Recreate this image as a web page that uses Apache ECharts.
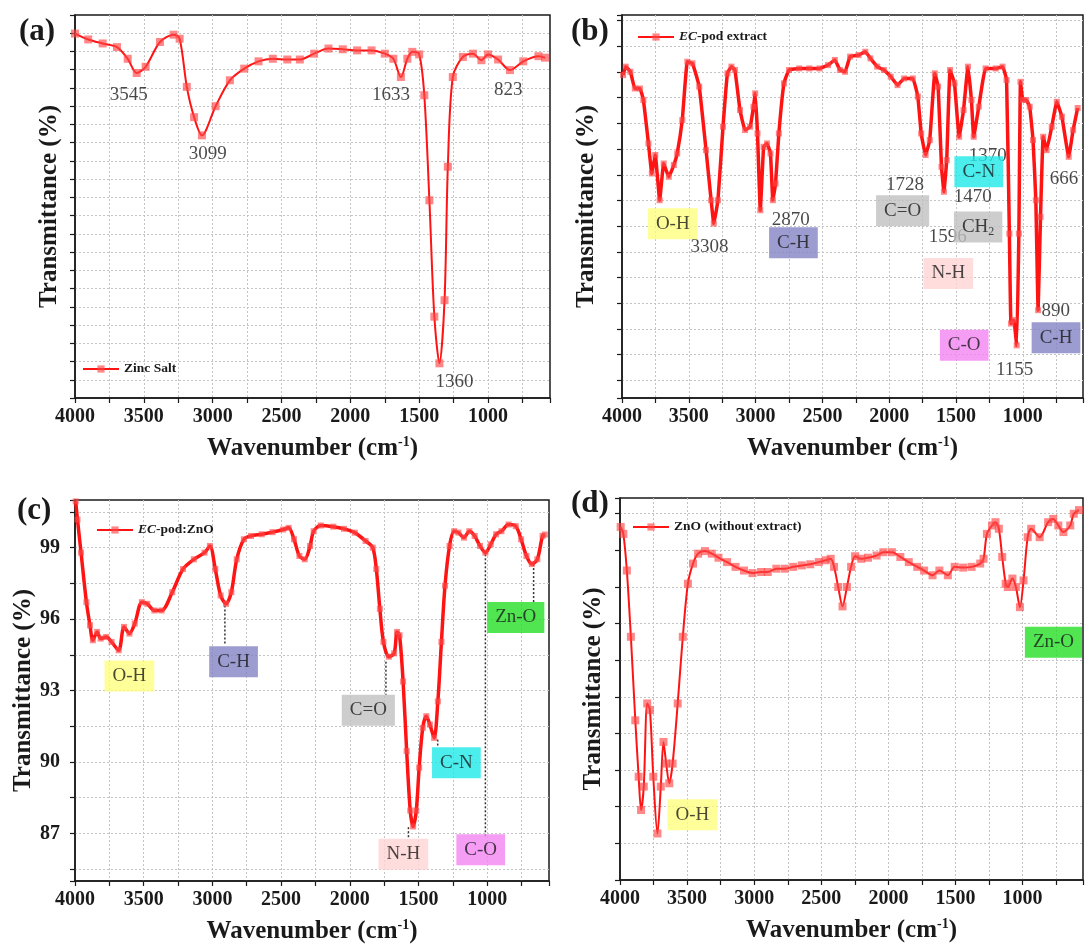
<!DOCTYPE html>
<html>
<head>
<meta charset="utf-8">
<script src="https://cdn.jsdelivr.net/npm/echarts@6/dist/echarts.min.js"></script>
<style>
  html, body { margin: 0; padding: 0; background: #fff; }
  #chart { width: 1086px; height: 947px; }
</style>
</head>
<body>
<div id="chart"></div>
<script>
// (a) Zinc Salt
const aWave = [4000,3904,3799,3695,3617,3552,3487,3383,3284,3240,3188,3135,3078,2979,2875,2771,2667,2563,2458,2367,2263,2159,2055,1951,1846,1750,1688,1633,1586,1550,1500,1463,1426,1390,1353,1316,1292,1256,1183,1110,1048,1000,927,841,744,634,586];
const aTrans = [9.99,9.83,9.72,9.62,9.30,8.91,9.08,9.76,9.96,9.85,8.53,7.70,7.20,8.00,8.71,9.03,9.23,9.30,9.28,9.28,9.44,9.58,9.56,9.53,9.53,9.44,9.30,8.80,9.30,9.49,9.42,8.30,5.42,2.23,0.95,2.68,6.34,8.80,9.35,9.44,9.26,9.42,9.28,8.99,9.23,9.37,9.33];
const aPeaks = [["3545",3609,8.30],["3099",3036,6.70],["1633",1705,8.30],["1360",1243,0.44],["823",854,8.44]];

// (b) EC-pod extract
const bWave = [3992,3972,3937,3904,3866,3840,3802,3777,3751,3718,3688,3650,3612,3587,3549,3511,3473,3422,3371,3333,3313,3282,3244,3211,3181,3155,3117,3079,3041,3016,3003,2986,2965,2940,2915,2889,2871,2851,2826,2788,2750,2674,2598,2522,2458,2407,2369,2331,2293,2230,2179,2141,2090,2040,1989,1938,1888,1824,1786,1761,1728,1697,1659,1634,1609,1591,1570,1545,1512,1477,1444,1411,1385,1368,1330,1279,1203,1152,1122,1101,1089,1068,1046,1030,1018,1000,975,949,924,903,886,868,848,822,784,746,708,657,624,590];
const bTrans = [11.88,12.21,12.01,11.36,11.36,10.91,9.22,8.05,8.77,7.01,8.44,7.92,8.38,8.83,10.13,12.40,12.34,11.43,8.96,7.01,6.10,7.01,9.87,11.95,12.21,12.08,10.52,9.74,9.87,10.65,11.17,9.61,6.62,9.09,9.22,8.83,7.01,7.66,9.61,11.56,12.08,12.14,12.14,12.14,12.27,12.47,12.08,12.01,12.60,12.66,12.79,12.53,12.21,12.08,11.82,11.49,11.75,11.75,11.04,9.61,8.77,9.35,11.95,11.43,8.31,7.34,8.57,12.08,11.56,9.48,10.52,12.21,10.91,9.48,10.65,12.14,12.14,12.21,11.69,5.71,2.21,2.34,1.36,5.71,11.62,10.91,10.91,10.65,9.35,7.01,2.73,6.36,9.48,8.96,9.87,10.84,10.26,8.70,9.74,10.6];
const bPeaks = [["3308",3346,5.19],["2870",2737,6.23],["1728",1882,7.60],["1596",1563,5.56],["1470",1375,7.14],["1370",1263,8.74],["1155",1062,0.39],["890",754,2.70],["666",692,7.82]];
const bBoxes = [["O-H",3620,6.09],["C-H",2717,5.35],["C=O",1900,6.60],["CH2",1335,5.97],["C-N",1330,8.12],["N-H",1558,4.16],["C-O",1439,1.36],["C-H",752,1.66]];

// (c) EC-pod:ZnO
const cWave = [3995,3982,3956,3917,3891,3870,3839,3813,3773,3734,3682,3643,3604,3565,3513,3474,3422,3370,3292,3214,3135,3057,3018,2979,2940,2901,2862,2823,2771,2719,2641,2563,2485,2445,2406,2367,2328,2289,2263,2211,2120,2042,1964,1885,1833,1807,1781,1755,1716,1677,1656,1638,1612,1586,1560,1539,1516,1495,1469,1443,1417,1386,1359,1333,1307,1274,1240,1209,1169,1130,1091,1052,1013,974,935,896,844,792,753,714,675,635,597,580];
const cTrans = [100.94,100.18,98.79,96.71,95.74,95.11,95.46,95.18,95.25,95.04,94.69,95.67,95.39,95.81,96.71,96.64,96.36,96.36,97.13,98.10,98.51,98.79,99.07,98.10,96.99,96.64,97.13,98.51,99.35,99.49,99.56,99.65,99.76,99.83,99.35,98.65,98.51,99.07,99.69,99.93,99.88,99.79,99.63,99.28,99.00,98.10,96.43,95.04,94.42,94.56,95.46,95.32,93.38,90.46,87.96,87.29,87.96,89.76,91.43,91.92,91.57,91.01,92.54,95.04,97.40,99.07,99.69,99.63,99.42,99.69,99.49,99.07,98.79,99.14,99.56,99.69,99.97,99.90,99.35,98.65,98.31,98.51,99.49,99.55];
const cBoxes = [["O-H",3604,93.61],["C-H",2846,94.21],["C=O",1865,92.17],["N-H",1610,86.12],["C-N",1224,89.97],["C-O",1047,86.31],["Zn-O",792,96.07]];
const cLeaders = [[2909,96.57,94.97],[1737,94.21,92.82],[1573,87.26,86.78],[1360,90.94,90.63],[1013,98.72,86.88],[662,98.31,96.71]];

// (d) ZnO (without extract)
const dWave = [3995,3975,3949,3919,3886,3861,3843,3823,3797,3777,3752,3721,3696,3676,3656,3633,3608,3570,3532,3494,3456,3418,3367,3316,3266,3202,3139,3076,3013,2949,2899,2835,2772,2709,2645,2582,2519,2468,2430,2405,2374,2342,2309,2278,2248,2202,2152,2088,2038,1974,1911,1848,1785,1734,1671,1620,1557,1506,1443,1380,1316,1291,1266,1228,1202,1177,1152,1126,1110,1076,1050,1020,993,962,936,873,810,772,734,696,645,619,580];
const dTrans = [9.64,9.45,8.45,6.64,4.36,2.82,1.91,2.55,4.82,4.64,2.82,1.27,2.55,3.77,3.18,2.64,3.18,4.82,6.64,8.09,8.64,8.91,8.98,8.91,8.80,8.68,8.55,8.45,8.38,8.41,8.41,8.50,8.50,8.55,8.59,8.62,8.68,8.73,8.77,8.55,8.00,7.47,8.00,8.55,8.84,8.77,8.80,8.86,8.95,8.95,8.82,8.68,8.55,8.45,8.32,8.45,8.32,8.55,8.53,8.55,8.64,8.77,9.45,9.68,9.77,9.59,8.82,8.09,8.00,8.23,8.00,7.45,8.18,9.36,9.59,9.36,9.77,9.86,9.68,9.50,9.68,10.0,10.1];
const dBoxes = [["O-H",3461,1.78],["Zn-O",770,6.49]];

const seriesNames = ["Zinc Salt", "EC-pod extract", "EC-pod:ZnO", "ZnO (without extract)"];
const panelTags = ["(a)", "(b)", "(c)", "(d)"];

const serif = '"Liberation Serif", "Times New Roman", serif';
const ink = "#1a1a1a";
const red = "#ff1414";
const boxColors = {
  "O-H": "#ffff80", "C-H": "#8383c6", "C=O": "#c0c0c0", "CH2": "#c0c0c0",
  "C-N": "#1ee8e8", "N-H": "#ffd4d4", "C-O": "#f285f2", "Zn-O": "#26e026",
};

const zip = (w, t) => w.map((x, i) => [x, t[i]]);

const grids = [
  { left: 75, top: 15, width: 475, height: 383 },
  { left: 622, top: 15, width: 476, height: 383 },
  { left: 75, top: 500, width: 474, height: 383 },
  { left: 620, top: 498, width: 476, height: 382 },
].map((g) => ({ ...g, show: true, borderColor: ink, borderWidth: 1.5 }));

const gridLine = { show: true, showMinLine: false, showMaxLine: false, lineStyle: { color: "#c4c4c4", type: [2, 2], width: 1 } };
const axisLine = { show: true, onZero: false, lineStyle: { color: ink, width: 1.5 } };
const axisTick = { show: true, length: 5, lineStyle: { color: ink, width: 1.2 } };

const xAxes = grids.map((g, i) => ({
  gridIndex: i,
  type: "value",
  inverse: true,
  min: 550,
  max: 4000,
  minInterval: 250,
  maxInterval: 250,
  splitNumber: 14,
  name: "Wavenumber (cm{sup|-1})",
  nameLocation: "middle",
  nameGap: 37,
  nameTextStyle: {
    fontFamily: serif, fontWeight: "bold", fontSize: 25, color: ink, lineHeight: 28,
    rich: { sup: { fontFamily: serif, fontWeight: "bold", fontSize: 14, lineHeight: 13, verticalAlign: "top", color: ink } },
  },
  axisLine, axisTick,
  axisLabel: {
    fontFamily: serif, fontWeight: "bold", fontSize: 20, color: ink, margin: 9,
    formatter: (v) => (v % 500 === 0 ? String(v) : ""),
  },
  splitLine: gridLine,
}));

const yName = {
  name: "Transmittance (%)",
  nameLocation: "middle",
  nameTextStyle: { fontFamily: serif, fontWeight: "bold", fontSize: 25, color: ink },
  axisLine, axisTick, splitLine: gridLine,
};
const yAxes = [
  { ...yName, gridIndex: 0, type: "value", min: 0, max: 10.5, interval: 0.5, nameGap: 13, axisLabel: { show: false } },
  { ...yName, gridIndex: 1, type: "value", min: -0.69, max: 14.22, minInterval: 1, maxInterval: 1, splitNumber: 15, nameGap: 23, axisLabel: { show: false } },
  {
    ...yName, gridIndex: 2, type: "value", min: 85, max: 101, minInterval: 1.5, maxInterval: 1.5, splitNumber: 11, nameGap: 39,
    axisLabel: {
      fontFamily: serif, fontWeight: "bold", fontSize: 20, color: ink, margin: 15,
      formatter: (v) => (Math.abs(v % 3) < 1e-6 ? String(v) : ""),
    },
  },
  { ...yName, gridIndex: 3, type: "value", min: 0, max: 10.43, interval: 1, nameGap: 14, axisLabel: { show: false } },
];

const spectra = [zip(aWave, aTrans), zip(bWave, bTrans), zip(cWave, cTrans), zip(dWave, dTrans)];
const lineWidths = [2, 3.5, 3.5, 2];
const smoothness = [0.3, 0.1, 0.3, 0.3];

const series = spectra.map((data, i) => ({
  name: seriesNames[i],
  type: "line",
  xAxisIndex: i,
  yAxisIndex: i,
  data,
  smooth: smoothness[i],
  symbol: "rect",
  symbolSize: i === 1 || i === 2 ? 6 : 8,
  showSymbol: true,
  lineStyle: { color: red, width: lineWidths[i] },
  itemStyle: { color: "rgba(255,70,70,0.65)", borderWidth: 0 },
  z: 3,
  silent: true,
}));

const textSeries = (list, idx, boxed) => ({
  type: "scatter",
  xAxisIndex: idx,
  yAxisIndex: idx,
  symbolSize: 1,
  itemStyle: { color: "rgba(0,0,0,0)" },
  silent: true,
  z: 6,
  data: list.map(([t, x, y]) => ({
    name: t,
    value: [x, y],
    label: boxed ? { backgroundColor: boxColors[t] } : {},
  })),
  label: {
    show: true,
    position: "inside",
    fontFamily: serif,
    fontSize: 19,
    lineHeight: 21,
    color: ink,
    padding: boxed ? [5, 8] : 0,
    formatter: (p) => (p.name === "CH2" ? "CH{sub|2}" : p.name),
    rich: { sub: { fontFamily: serif, fontSize: 12, lineHeight: 21, verticalAlign: "bottom", padding: [9, 0, 0, 0], color: ink } },
  },
});

series.push(textSeries(aPeaks, 0, false));
series.push(textSeries(bPeaks, 1, false));
series.push(textSeries(bBoxes, 1, true));
series.push(textSeries(cBoxes, 2, true));
series.push(textSeries(dBoxes, 3, true));

cLeaders.forEach(([x, y1, y2]) => {
  series.push({
    type: "line",
    xAxisIndex: 2,
    yAxisIndex: 2,
    data: [[x, y1], [x, y2]],
    symbol: "none",
    silent: true,
    lineStyle: { color: "#333", width: 1.5, type: [2, 2] },
    z: 2,
  });
});

const legendPos = [
  { left: 82, top: 362 },
  { left: 637, top: 30 },
  { left: 96, top: 523 },
  { left: 632, top: 520 },
];
const legends = legendPos.map((p, i) => ({
  ...p,
  data: [seriesNames[i]],
  orient: "horizontal",
  padding: 0,
  itemWidth: 36,
  itemHeight: 9,
  itemGap: 4,
  selectedMode: false,
  textStyle: {
    fontFamily: serif, fontWeight: "bold", fontSize: 13.5, color: ink,
    rich: { i: { fontFamily: serif, fontWeight: "bold", fontStyle: "italic", fontSize: 13.5, color: ink } },
  },
  formatter: (n) => (n.startsWith("EC") ? "{i|EC}" + n.slice(2) : n),
}));

const tagPos = [
  { left: 19, top: 16 },
  { left: 571, top: 16 },
  { left: 17, top: 495 },
  { left: 571, top: 488 },
];
const titles = tagPos.map((p, i) => ({
  ...p,
  text: panelTags[i],
  padding: 0,
  textStyle: { fontFamily: serif, fontWeight: "bold", fontSize: 31, color: ink },
}));

const chart = echarts.init(document.getElementById("chart"));
chart.setOption({
  backgroundColor: "#fff",
  animation: false,
  title: titles,
  legend: legends,
  grid: grids,
  xAxis: xAxes,
  yAxis: yAxes,
  series,
});
</script>
</body>
</html>
